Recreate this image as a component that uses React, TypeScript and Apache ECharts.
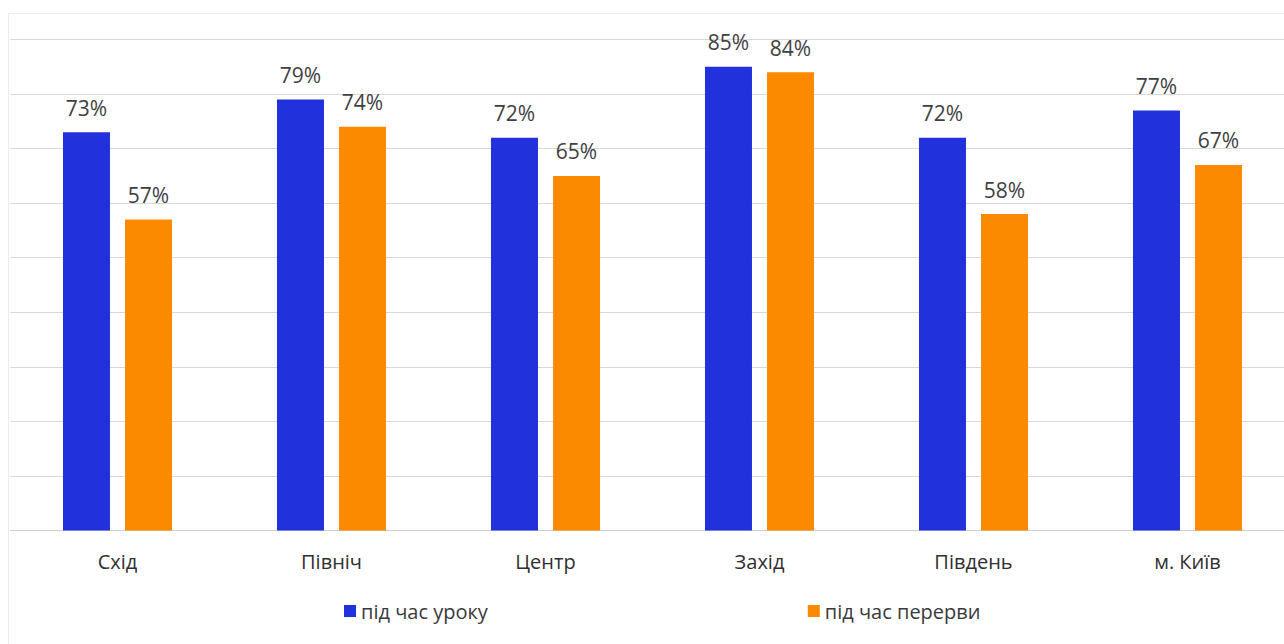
import React, { useEffect, useRef } from "react";
import * as echarts from "echarts";

const categories = ["Схід", "Північ", "Центр", "Захід", "Південь", "м. Київ"];
const lessonValues = [73, 79, 72, 85, 72, 77];
const breakValues = [57, 74, 65, 84, 58, 67];
const seriesNames = ["під час уроку", "під час перерви"];

export default function App() {
  const ref = useRef<HTMLDivElement>(null);
  useEffect(() => {
    if (!ref.current) return;
    const chart = echarts.init(ref.current, null, { renderer: "svg" });
    const font = "'Open Sans', 'Noto Sans', sans-serif";
    const label = {
      show: true,
      position: "top",
      distance: 14,
      formatter: "{c}%",
      color: "#3f3f3f",
      fontSize: 21,
      fontFamily: font,
    };
    chart.setOption({
      animation: false,
      backgroundColor: "#ffffff",
      graphic: [
        {
          type: "rect",
          shape: { x: 8.5, y: 13.5, width: 1300, height: 700 },
          style: { fill: "none", stroke: "#ececec", lineWidth: 1 },
          silent: true,
        },
      ],
      legend: {
        left: 339,
        top: 596,
        itemGap: 320,
        itemWidth: 12,
        itemHeight: 12,
        icon: "rect",
        textStyle: { fontSize: 20, color: "#3a3a3a", fontFamily: font, padding: [0, 0, 0, 0] },
        data: seriesNames,
      },
      grid: {
        left: 10.5,
        width: 1284,
        top: 39.5,
        bottom: 113.5,
        containLabel: false,
        outerBoundsMode: "none",
      },
      xAxis: {
        type: "category",
        data: categories,
        axisLine: { lineStyle: { color: "#d0d0d0", width: 1 } },
        axisTick: { show: false },
        axisLabel: { color: "#303030", fontSize: 20, fontFamily: font, margin: 21 },
      },
      yAxis: {
        type: "value",
        min: 0,
        max: 90,
        interval: 10,
        axisLabel: { show: false },
        axisLine: { show: false },
        axisTick: { show: false },
        splitLine: { lineStyle: { color: "#d9d9d9", width: 1 } },
      },
      series: [
        {
          name: seriesNames[0],
          type: "bar",
          data: lessonValues,
          barWidth: 47,
          barGap: "32%",
          itemStyle: { color: "#2131DB" },
          label,
        },
        {
          name: seriesNames[1],
          type: "bar",
          data: breakValues,
          barWidth: 47,
          barGap: "32%",
          itemStyle: { color: "#FB8A00" },
          label,
        },
      ],
    });
    return () => chart.dispose();
  }, []);
  return (
    <div
      ref={ref}
      style={{ position: "fixed", left: 0, top: 0, width: 1284, height: 644 }}
    />
  );
}
